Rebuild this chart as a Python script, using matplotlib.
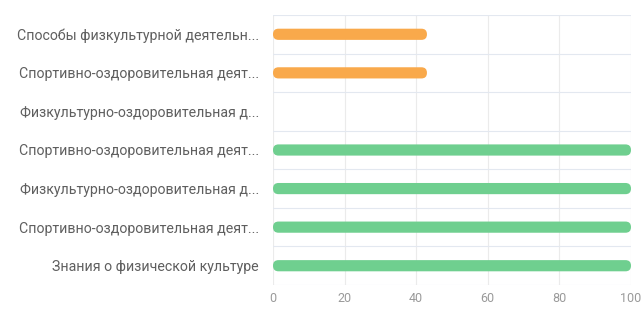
import matplotlib
matplotlib.use("Agg")
import matplotlib.pyplot as plt
from matplotlib.patches import FancyBboxPatch

categories = [
    "Способы физкультурной деятельн...",
    "Спортивно-оздоровительная деят...",
    "Физкультурно-оздоровительная д...",
    "Спортивно-оздоровительная деят...",
    "Физкультурно-оздоровительная д...",
    "Спортивно-оздоровительная деят...",
    "Знания о физической культуре",
]
values = [43, 43, 0, 100, 100, 100, 100]
bar_colors = ["#F9A94B", "#F9A94B", "#6FCF8F", "#6FCF8F", "#6FCF8F", "#6FCF8F", "#6FCF8F"]
xticks = [0, 20, 40, 60, 80, 100]

plt.rcParams['font.family'] = ['Roboto', 'DejaVu Sans']

W, H = 643, 312
fig = plt.figure(figsize=(W / 100, H / 100), dpi=100)
left, right, top, bottom = 273, 631, 15, 285
ax = fig.add_axes([left / W, 1 - bottom / H, (right - left) / W, (bottom - top) / H])

n = len(categories)
ypos = list(range(n))
ax.set_xlim(0, 100)
ax.set_ylim(n - 0.5, -0.5)

bar_h = 0.29
bars = ax.barh(ypos, values, height=bar_h, color=bar_colors)
# replace with rounded bars
xpp = 100 / (right - left)
ypp = n / (bottom - top)
aspect = ypp / xpp
r_px = 5.5
for b in bars:
    w = b.get_width()
    if w <= 0:
        b.set_visible(False)
        continue
    x0, y0 = b.get_x(), b.get_y()
    hh = b.get_height()
    p = FancyBboxPatch((x0, y0), w, hh,
                       boxstyle=f"round,pad=0,rounding_size={r_px * xpp}",
                       mutation_aspect=aspect,
                       facecolor=b.get_facecolor(), edgecolor="none", zorder=3)
    ax.add_patch(p)
    b.set_visible(False)

# grid
for xt in xticks:
    ax.axvline(xt, color="#ebebeb", lw=0.8, zorder=0)
for k in range(n + 1):
    ax.axhline(k - 0.5, color="#e3e8f0", lw=0.8, zorder=0)

for s in ax.spines.values():
    s.set_visible(False)

ax.set_xticks(xticks)
ax.set_xticklabels([str(t) for t in xticks])
ax.set_yticks(ypos)
ax.set_yticklabels(categories)
ax.tick_params(axis='both', length=0)
ax.tick_params(axis='y', pad=10, labelsize=10.2, labelcolor="#5f5f5f")
ax.tick_params(axis='x', pad=5, labelsize=9, labelcolor="#9a9a9a")

fig.savefig("out.png", dpi=100, facecolor="white")
